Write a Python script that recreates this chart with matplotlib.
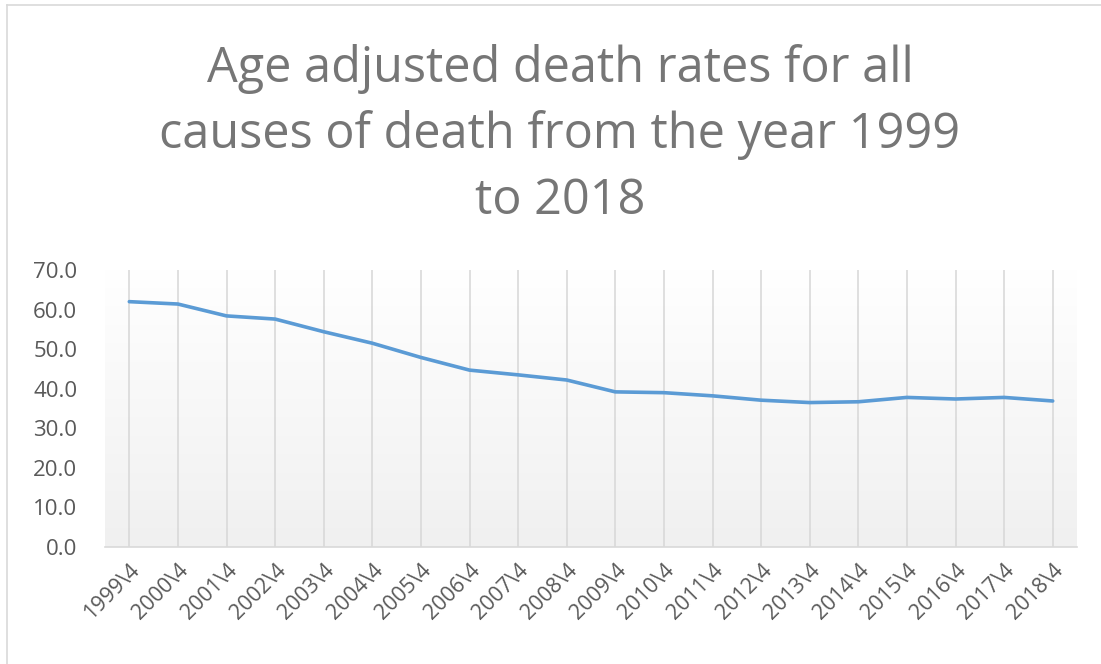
import matplotlib.pyplot as plt
import numpy as np
from matplotlib.lines import Line2D

# Age adjusted death rates
years = [str(y) + '\\4' for y in range(1999, 2019)]
rates = [62.0, 61.4, 58.4, 57.6, 54.4, 51.5, 47.9, 44.7, 43.5, 42.2,
         39.2, 39.0, 38.2, 37.1, 36.5, 36.7, 37.8, 37.4, 37.8, 36.9]
yticks = [0, 10, 20, 30, 40, 50, 60, 70]

title = 'Age adjusted death rates for all\ncauses of death from the year 1999\nto 2018'

fig = plt.figure(figsize=(11.01, 6.64), dpi=100)
ax = fig.add_axes([105 / 1101, 1 - 547 / 664, 972 / 1101, 277 / 664])

x = np.arange(len(years))
ax.set_xlim(-0.5, len(years) - 0.5)
ax.set_ylim(0, 70)

# plot area gradient (white at top to light grey at bottom)
grad = np.linspace(0, 1, 256).reshape(-1, 1)
ax.imshow(grad, extent=[-0.5, len(years) - 0.5, 0, 70], aspect='auto',
          cmap=plt.matplotlib.colors.LinearSegmentedColormap.from_list('g', ['#ffffff', '#f0f0f0']),
          origin='upper', zorder=0)

for xi in x:
    ax.axvline(xi, color='#d9d9d9', lw=1.2, zorder=1)

ax.plot(x, rates, color='#5b9bd5', lw=2.6, solid_joinstyle='round',
        solid_capstyle='round', zorder=3)

ax.set_xticks(x)
ax.set_xticklabels(years, rotation=45, ha='right', va='top', rotation_mode='anchor',
                   fontsize=15.5, color='#595959', family='Open Sans')
ax.set_yticks(yticks)
ax.set_yticklabels([f'{v:.1f}' for v in yticks], fontsize=16, color='#595959',
                   family='Open Sans')
ax.tick_params(axis='x', length=0, pad=9)
ax.tick_params(axis='y', length=0, pad=20)

for s in ['top', 'right', 'left']:
    ax.spines[s].set_visible(False)
ax.spines['bottom'].set_color('#d9d9d9')
ax.spines['bottom'].set_linewidth(1.2)

fig.text(560 / 1101, 1 - 135 / 664, title, ha='center', va='center', fontsize=35,
         color='#767676', family='Open Sans', linespacing=1.42)

# outer chart border
fig.add_artist(Line2D([7 / 1101, 7 / 1101], [0, 1 - 5 / 664], color='#d9d9d9', lw=1.2))
fig.add_artist(Line2D([7 / 1101, 1], [1 - 5 / 664, 1 - 5 / 664], color='#d9d9d9', lw=1.2))

fig.savefig('out.png', dpi=100)
